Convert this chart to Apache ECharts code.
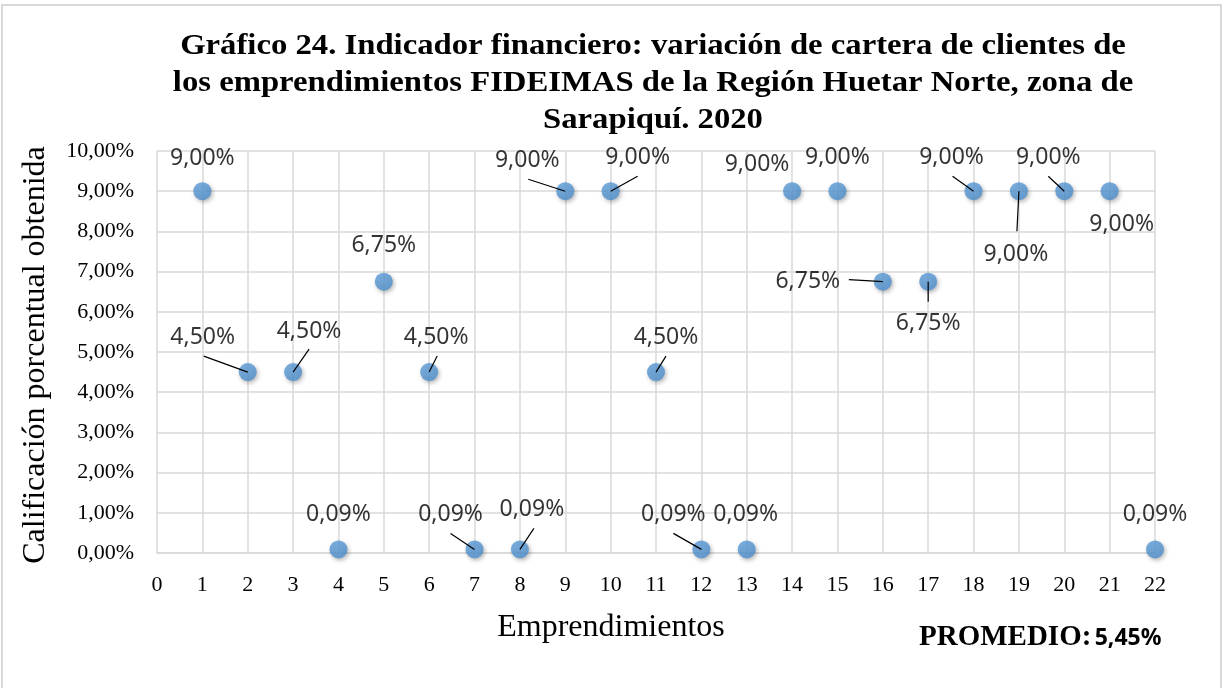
<!DOCTYPE html>
<html>
<head>
<meta charset="utf-8">
<script src="https://cdn.jsdelivr.net/npm/echarts@6/dist/echarts.min.js"></script>
<style>
  html, body { margin: 0; padding: 0; background: #fff; }
  #chart { width: 1225px; height: 688px; }
</style>
</head>
<body>
<div id="chart"></div>
<script>
// datos del grafico
const emprendimientos = [1, 2, 3, 4, 5, 6, 7, 8, 9, 10, 11, 12, 13, 14, 15, 16, 17, 18, 19, 20, 21, 22]
const calificaciones = [9.00, 4.50, 4.50, 0.09, 6.75, 4.50, 0.09, 0.09, 9.00, 9.00, 4.50, 0.09, 0.09, 9.00, 9.00, 6.75, 6.75, 9.00, 9.00, 9.00, 9.00, 0.09]
const promedio = '5,45%'

// posicion de cada etiqueta respecto a su punto (px)
const labelOffsets = [
  [0, -33], [-45, -35], [16, -41], [0, -35], [0, -36], [7, -35], [-24, -35], [12, -40],
  [-38, -31], [27, -34], [10, -35], [-28, -35], [-1, -35], [-35, -27], [0, -34], [-75, 0],
  [0, 42], [-22, -34], [-3, 63], [-16, -34], [12, 33], [0, -35]
]
// extremo de la linea guia respecto al punto (px), null = sin linea
const lineOffsets = [
  null, [-44, -16], [16, -23], null, null, [8, -16], [-24, -16], [14, -21],
  [-37, -12], [27, -15], [10, -16], [-28, -16], null, null, null, [-34, -2],
  [0, 20], [-21, -15], [-2, 40], [-16, -15], null, null
]

const serif = "'Liberation Serif', 'Times New Roman', serif"
const sans = "'Noto Sans', 'Open Sans', sans-serif"

function pct(v) {
  return v.toFixed(2).replace('.', ',') + '%'
}

let seriesData = emprendimientos.map((x, i) => [x, calificaciones[i]])

var chartDom = document.getElementById('chart');
var myChart = echarts.init(chartDom);
var option;

option = {
  animation: false,
  grid: {
    left: 157,
    top: 151,
    width: 998,
    height: 402
  },
  xAxis: {
    type: 'value',
    min: 0,
    max: 22,
    interval: 1,
    axisLine: { show: true, lineStyle: { color: '#d9d9d9', width: 1.5 } },
    axisTick: { show: false },
    splitLine: { show: true, lineStyle: { color: '#d9d9d9', width: 1.5 } },
    axisLabel: {
      margin: 21,
      color: '#000',
      fontFamily: serif,
      fontSize: 22
    }
  },
  yAxis: {
    type: 'value',
    min: 0,
    max: 10,
    interval: 1,
    axisLine: { show: false },
    axisTick: { show: false },
    splitLine: { show: true, lineStyle: { color: '#d9d9d9', width: 1.5 } },
    axisLabel: {
      margin: 23,
      color: '#000',
      fontFamily: serif,
      fontSize: 22,
      formatter: function (v) { return pct(v) }
    }
  },
  series: [
    {
      type: 'scatter',
      symbolSize: 18,
      data: seriesData,
      z: 2,
      itemStyle: {
        color: {
          type: 'radial', x: 0.45, y: 0.4, r: 0.6,
          colorStops: [
            { offset: 0, color: '#62a2dd' },
            { offset: 1, color: '#4d8fcd' }
          ]
        },
        shadowBlur: 4,
        shadowColor: 'rgba(0,0,0,0.35)',
        shadowOffsetX: 1.5,
        shadowOffsetY: 2
      },
      label: {
        show: true,
        position: 'inside',
        color: '#000',
        fontFamily: sans,
        fontSize: 23,
        formatter: function (params) {
          return pct(params.value[1])
        }
      },
      labelLayout: function (params) {
        let o = labelOffsets[params.dataIndex]
        return { dx: o[0], dy: o[1] }
      },
      emphasis: { disabled: true }
    },
    {
      // lineas guia de las etiquetas
      type: 'custom',
      z: 3,
      silent: true,
      data: seriesData,
      renderItem: function (params, api) {
        let o = lineOffsets[params.dataIndex]
        if (!o) return null
        let p = api.coord([api.value(0), api.value(1)])
        return {
          type: 'line',
          shape: { x1: p[0], y1: p[1], x2: p[0] + o[0], y2: p[1] + o[1] },
          style: { stroke: '#000', lineWidth: 1.2 }
        }
      }
    }
  ],
  graphic: [
    {
      type: 'rect',
      silent: true,
      shape: { x: 2, y: 5, width: 1219, height: 700 },
      style: { fill: 'none', stroke: '#d9d9d9', lineWidth: 2 }
    },
    {
      type: 'text',
      x: 653,
      y: 28,
      scaleX: 1.09,
      style: {
        text: 'Gráfico 24. Indicador financiero: variación de cartera de clientes de\nlos emprendimientos FIDEIMAS de la Región Huetar Norte, zona de\nSarapiquí. 2020',
        textAlign: 'center',
        textVerticalAlign: 'top',
        lineHeight: 37,
        font: 'bold 30px ' + serif,
        fill: '#000'
      }
    },
    {
      type: 'text',
      x: 36,
      y: 355,
      rotation: Math.PI / 2,
      style: {
        text: 'Calificación porcentual obtenida',
        textAlign: 'center',
        textVerticalAlign: 'middle',
        font: '32px ' + serif,
        fill: '#000'
      }
    },
    {
      type: 'text',
      x: 611,
      y: 628,
      style: {
        text: 'Emprendimientos',
        textAlign: 'center',
        textVerticalAlign: 'middle',
        font: '32px ' + serif,
        fill: '#000'
      }
    },
    {
      type: 'text',
      x: 919,
      y: 638,
      style: {
        text: '{a|PROMEDIO:} {b|' + promedio + '}',
        textAlign: 'left',
        textVerticalAlign: 'middle',
        rich: {
          a: { fontFamily: serif, fontWeight: 'bold', fontSize: 29, color: '#000' },
          b: { fontFamily: sans, fontWeight: 'bold', fontSize: 23, color: '#000' }
        }
      }
    }
  ]
};
option && myChart.setOption(option);
</script>
</body>
</html>
